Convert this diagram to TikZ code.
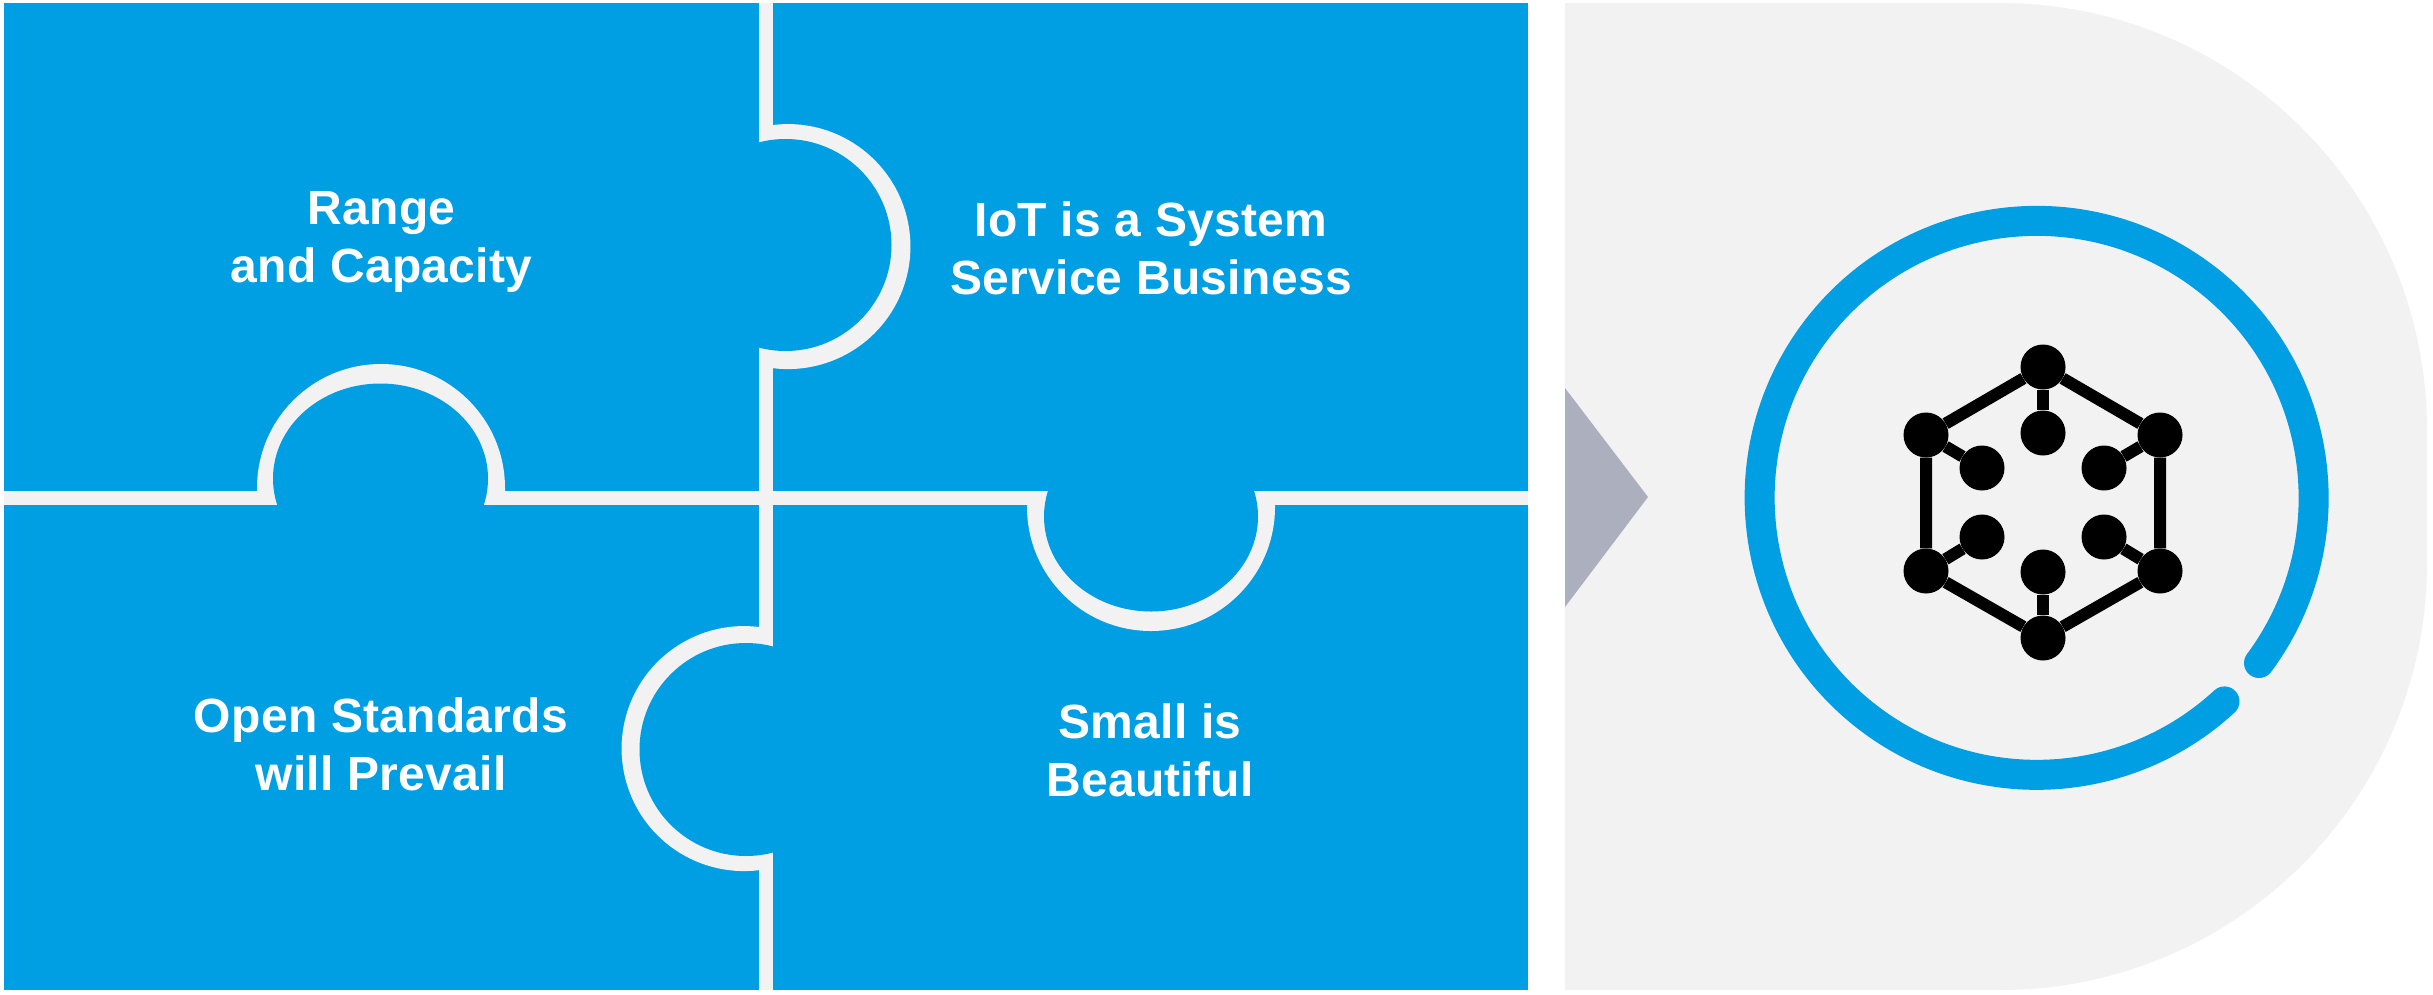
\documentclass[tikz,border=0pt]{standalone}
\usepackage{fontspec}
\setmainfont[LetterSpace=0.6]{Liberation Sans}
\usepackage{tikz}
\definecolor{colblue}{rgb}{0.0, 0.6196078431372549, 0.8862745098039215}
\definecolor{colgrey}{rgb}{0.9490196078431372, 0.9490196078431372, 0.9490196078431372}
\definecolor{colarrow}{rgb}{0.6745098039215687, 0.6901960784313725, 0.7450980392156863}
\tikzset{
    txt/.style = {align = center, text = white, font = \fontsize{48}{58}\selectfont\bfseries},
    seam/.style = {fill = colgrey},
    panel/.style = {fill = colblue},
    hub/.style = {circle, fill = black, inner sep = 0pt, minimum size = 45pt},
    wire/.style = {line width = 12pt, draw = black}
}

\begin{document}
\begin{tikzpicture} [x = 1pt, y = 1pt, yscale = -1]
\useasboundingbox (0, 0) rectangle (2433, 994);
\fill [seam] (1565, 3) -- (2000, 3) arc [start angle = -90, end angle = 0, radius = 427]
    -- (2427, 563) arc [start angle = 0, end angle = 90, radius = 427] -- (1565, 990) -- cycle;
\fill [colarrow] (1565, 388) -- (1648, 497) -- (1565, 607) -- cycle;
\fill [panel] (4, 3) rectangle (1528, 990);
\fill [seam] (4, 490.5) rectangle (1528, 504.5);
\fill [seam] (758.5, 3) rectangle (773, 490.5);
\fill [seam] (758.5, 504.5) rectangle (773, 990);
\fill [seam] (773, 125) arc [start angle = -97, end angle = 97, radius = 122.5] -- cycle;
\fill [seam] (759, 627) arc [start angle = -83, end angle = -277, radius = 122.5] -- cycle;
\fill [seam] (257, 491) -- (257, 488) arc [start angle = 180, end angle = 360, radius = 124] -- (505, 491) -- cycle;
\fill [seam] (1027, 504) -- (1027, 507) arc [start angle = 180, end angle = 0, radius = 124] -- (1275, 504) -- cycle;
\fill [panel] (785.5, 245) circle [radius = 106];
\fill [panel] (746, 749.5) circle [radius = 106.5];
\fill [panel] (380.5, 478.5) circle [x radius = 107.5, y radius = 95];
\fill [panel] (1151, 516.5) circle [x radius = 107, y radius = 95];
\draw [colblue, line width = 30pt, line cap = round] (2259, 663)
    arc [start angle = 36.6, end angle = -312.7, radius = 277];
\node (range) [txt] at (381.5, 242) {Range\\and Capacity};
\node (iot) [txt] at (1151, 248) {IoT is a System\\Service Business};
\node (open) [txt] at (381, 744) {Open Standards\\will Prevail};
\node (small) [txt] at (1150, 750) {Small is\\Beautiful};
\node (h0) [hub] at (2043, 367) {};
\node (h1) [hub] at (2160, 435) {};
\node (h2) [hub] at (2160, 571) {};
\node (h3) [hub] at (2043, 638) {};
\node (h4) [hub] at (1926, 571) {};
\node (h5) [hub] at (1926, 435) {};
\node (p0) [hub] at (2043, 433) {};
\node (p1) [hub] at (2104, 468) {};
\node (p2) [hub] at (2104, 537) {};
\node (p3) [hub] at (2043, 572) {};
\node (p4) [hub] at (1982, 537) {};
\node (p5) [hub] at (1982, 468) {};
\draw [wire] (h0) -- (h1) -- (h2) -- (h3) -- (h4) -- (h5) -- (h0);
\draw [wire] (h0) -- (p0);
\draw [wire] (h1) -- (p1);
\draw [wire] (h2) -- (p2);
\draw [wire] (h3) -- (p3);
\draw [wire] (h4) -- (p4);
\draw [wire] (h5) -- (p5);
\end{tikzpicture}
\end{document}
